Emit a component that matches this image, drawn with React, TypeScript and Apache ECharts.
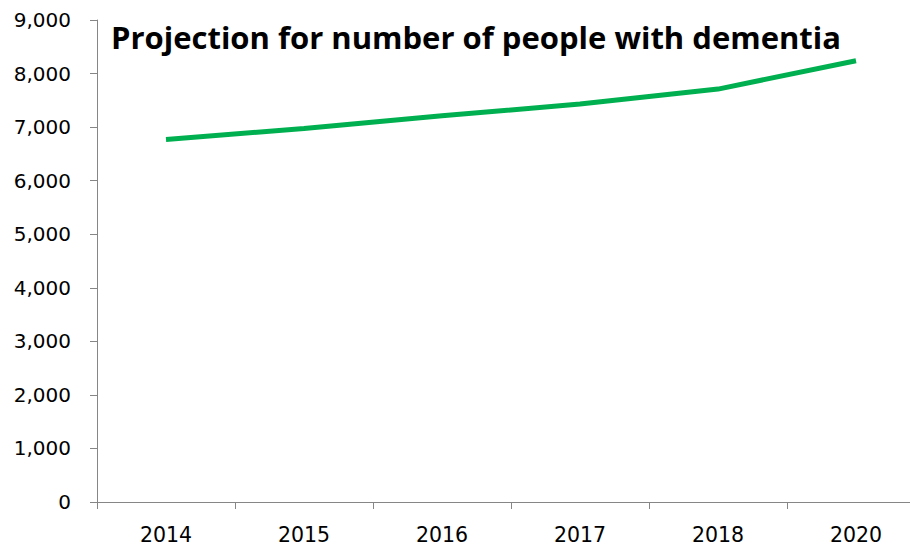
import React, { useEffect, useRef } from "react";
import * as echarts from "echarts";

const years = ["2014", "2015", "2016", "2017", "2018", "2020"];
const people = [6770, 6975, 7210, 7430, 7710, 8240];
const yTicks = { min: 0, max: 9000, interval: 1000 };
const titleText = "Projection for number of people with dementia";

export default function App() {
  const ref = useRef<HTMLDivElement>(null);
  useEffect(() => {
    document.body.style.margin = "0";
    const chart = echarts.init(ref.current!, null, { renderer: "svg" });
    const axisColor = "#868686";
    chart.setOption({
      animation: false,
      title: {
        text: titleText,
        left: 106,
        top: 16,
        textStyle: { fontFamily: "Open Sans", fontWeight: "bold", fontSize: 31, color: "#000" },
      },
      grid: {
        left: 97,
        top: 20,
        height: 482,
        width: 828,
        containLabel: false,
        outerBoundsMode: "none",
      },
      xAxis: {
        type: "category",
        data: years,
        boundaryGap: true,
        axisLine: { lineStyle: { color: axisColor, width: 1 } },
        axisTick: { show: true, interval: 0, length: 7, lineStyle: { color: axisColor } },
        axisLabel: { color: "#000", fontFamily: "DejaVu Sans", fontSize: 20.5, margin: 22 },
        splitLine: { show: false },
      },
      yAxis: {
        type: "value",
        min: yTicks.min,
        max: yTicks.max,
        interval: yTicks.interval,
        axisLine: { show: true, lineStyle: { color: axisColor, width: 1 } },
        axisTick: { show: true, length: 7, lineStyle: { color: axisColor } },
        axisLabel: {
          color: "#000",
          fontFamily: "DejaVu Sans",
          fontSize: 20,
          margin: 26,
          formatter: (v: number) => v.toLocaleString("en-US"),
        },
        splitLine: { show: false },
      },
      series: [
        {
          type: "line",
          data: people,
          symbol: "none",
          lineStyle: { color: "#00B050", width: 5 },
        },
      ],
    });
    return () => chart.dispose();
  }, []);
  return <div ref={ref} style={{ width: 910, height: 546 }} />;
}
